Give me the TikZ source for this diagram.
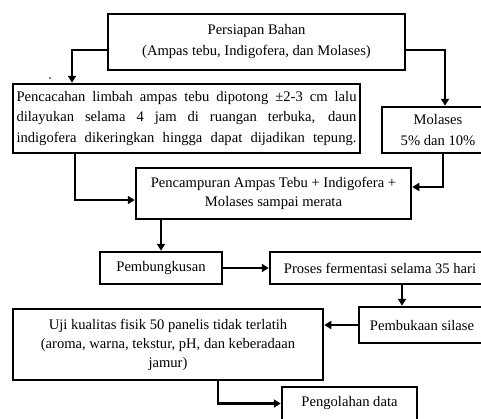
\documentclass[tikz,border=0pt]{standalone}
\usepackage{fontspec}
\setmainfont{Liberation Serif}
\usetikzlibrary{arrows.meta}
\begin{document}
\begin{tikzpicture}[x=1pt,y=-1pt,
  box/.style={draw, line width=2.5pt, inner sep=0pt, align=center, font=\fontsize{14.6}{19}\selectfont},
  arr/.style={line width=2.5pt, -{Triangle[length=7pt,width=8pt]}}]
\useasboundingbox (0,0) rectangle (481,418);
\clip (0,0) rectangle (481,418);
\node[box, minimum width=297pt, minimum height=56pt, font=\fontsize{14.6}{21}\selectfont] (b1) at (256.5,42) {Persiapan Bahan\\(Ampas tebu, Indigofera, dan Molases)};
\node[box, minimum width=347pt, minimum height=69pt, text width=340pt, align=justify, font=\fontsize{14.6}{20.5}\selectfont] (b2) at (186.5,118.5) {\hyphenpenalty=10000 \exhyphenpenalty=10000 \parfillskip=0pt Pencacahan limbah ampas tebu dipotong ±2-3 cm lalu dilayukan selama 4 jam di ruangan terbuka, daun indigofera dikeringkan hingga dapat dijadikan tepung.\par};
\node[box, minimum width=112pt, minimum height=46pt, font=\fontsize{14.6}{21}\selectfont] (mol) at (438,130) {Molases\\5\% dan 10\%};
\node[box, minimum width=275pt, minimum height=51pt] (b3) at (273.5,193.5) {Pencampuran Ampas Tebu + Indigofera +\\Molases sampai merata};
\node[box, minimum width=122pt, minimum height=32pt] (pemb) at (161,268) {Pembungkusan};
\node[box, minimum width=220pt, minimum height=32pt] (pros) at (380,268) {Proses fermentasi selama 35 hari};
\node[box, minimum width=126pt, minimum height=36pt] (buka) at (422,325) {Pembukaan silase};
\node[box, minimum width=310pt, minimum height=71pt] (uji) at (168,344.5) {Uji kualitas fisik 50 panelis tidak terlatih\\(aroma, warna, tekstur, pH, dan keberadaan\\jamur)};
\node[box, minimum width=135pt, minimum height=33pt] (peng) at (349.5,403.5) {Pengolahan data};
\fill (50,78) circle (0.8pt);
\draw[arr] ([yshift=-8pt]b1.west) -| ([xshift=-114.5pt]b2.north);
\draw[arr] ([yshift=-8pt]b1.east) -| ([xshift=7pt]mol.north);
\draw[arr] ([xshift=-111.5pt]b2.south) |- ([yshift=-6.5pt]b3.west);
\draw[arr] ([xshift=5pt]mol.south) |- ([yshift=6.5pt]b3.east);
\draw[arr] (b3.south -| pemb.north) -- (pemb.north);
\draw[arr] (pemb.east) -- (pros.west);
\draw[arr] ([xshift=22pt]pros.south) -- ([xshift=22pt]pros.south |- buka.north);
\draw[arr] (buka.west) -- (buka.west -| uji.east);
\draw[arr] ([xshift=50pt]uji.south) |- (peng.west);
\end{tikzpicture}
\end{document}
